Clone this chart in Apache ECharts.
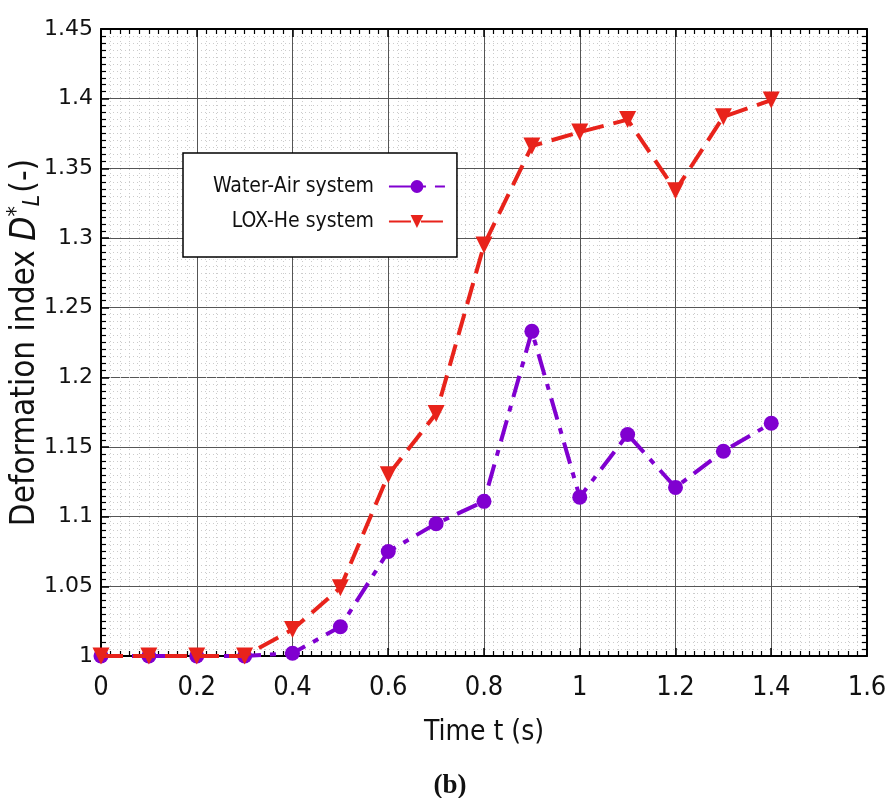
<!DOCTYPE html>
<html>
<head>
<meta charset="utf-8">
<script src="https://cdn.jsdelivr.net/npm/echarts@6/dist/echarts.min.js"></script>
<style>html,body{margin:0;padding:0;background:#fff;}#c{width:890px;height:798px;}</style>
</head>
<body>
<div id="c"></div>
<script>
const times = [0, 0.1, 0.2, 0.3, 0.4, 0.5, 0.6, 0.7, 0.8, 0.9, 1.0, 1.1, 1.2, 1.3, 1.4];
const waterAir = [1.0, 1.0, 1.0, 1.0, 1.002, 1.021, 1.075, 1.095, 1.111, 1.233, 1.114, 1.159, 1.121, 1.147, 1.167];
const loxHe = [1.0, 1.0, 1.0, 1.0, 1.019, 1.049, 1.13, 1.174, 1.295, 1.366, 1.376, 1.385, 1.334, 1.387, 1.399];
const seriesNames = ['Water-Air system', 'LOX-He system'];
const xTicks = {min: 0, max: 1.6, interval: 0.2};
const yTicks = {min: 1.0, max: 1.45, interval: 0.05};

const FONT = "'DejaVu Sans Condensed', 'Liberation Sans Narrow', 'DejaVu Sans', sans-serif";
const YFONT = "'DejaVu Sans', sans-serif";
const chart = echarts.init(document.getElementById('c'));
const pair = (ys) => times.map((t, i) => [t, ys[i]]);

function fmtX(v){ return String(Math.round(v*10)/10); }
function fmtY(v){ return String(Math.round(v*100)/100); }

const baseX = {
  type: 'value', min: xTicks.min, max: xTicks.max, interval: xTicks.interval,
  axisLine: {show: true, onZero: false, lineStyle: {color: '#000', width: 2}},
  axisTick: {show: true, inside: true, length: 8, lineStyle: {color: '#000', width: 1.5}},
  minorTick: {show: true, splitNumber: 10, length: 5, lineStyle: {color: '#000', width: 1.2}},
};
const baseY = {
  type: 'value', min: yTicks.min, max: yTicks.max, interval: yTicks.interval,
  axisLine: {show: true, onZero: false, lineStyle: {color: '#000', width: 2}},
  axisTick: {show: true, inside: true, length: 8, lineStyle: {color: '#000', width: 1.5}},
  minorTick: {show: true, splitNumber: 10, length: 5, lineStyle: {color: '#000', width: 1.2}},
};

chart.setOption({
  backgroundColor: '#fff',
  animation: false,
  grid: {left: 101, right: 23, top: 29, bottom: 142, show: false, containLabel: false, outerBoundsMode: 'none'},
  xAxis: [
    Object.assign({}, baseX, {
      position: 'bottom',
      name: 'Time t (s)', nameLocation: 'middle', nameGap: 63, nameMoveOverlap: false,
      nameTextStyle: {fontFamily: FONT, fontSize: 28, color: '#111'},
      axisLabel: {fontFamily: FONT, fontSize: 27, color: '#111', margin: 18, formatter: fmtX},
      splitLine: {show: true, lineStyle: {color: '#555', width: 1}},
      minorSplitLine: {show: true, lineStyle: {color: '#cccccc', width: 1, type: [1, 3]}}
    }),
    Object.assign({}, baseX, {
      position: 'top', axisLabel: {show: false}, splitLine: {show: false}
    })
  ],
  yAxis: [
    Object.assign({}, baseY, {
      position: 'left',
      name: '{a|Deformation index }{i|D}{sup|*}{sub|L}{a|(-)}',
      nameLocation: 'middle', nameGap: 56, nameRotate: 90, nameMoveOverlap: false,
      nameTextStyle: {
        fontFamily: FONT, fontSize: 33, color: '#111',
        rich: {
          a: {fontFamily: FONT, fontSize: 33, color: '#111'},
          i: {fontFamily: FONT, fontSize: 35, fontStyle: 'italic', color: '#111'},
          sup: {fontFamily: FONT, fontSize: 23, color: '#111', verticalAlign: 'top', padding: [0, 0, 16, 0]},
          sub: {fontFamily: FONT, fontSize: 23, fontStyle: 'italic', color: '#111', verticalAlign: 'bottom', padding: [12, 2, 0, 0]}
        }
      },
      axisLabel: {fontFamily: YFONT, fontSize: 22, color: '#111', margin: 8, formatter: fmtY},
      splitLine: {show: true, lineStyle: {color: '#555', width: 1}},
      minorSplitLine: {show: true, lineStyle: {color: '#cccccc', width: 1, type: [1, 3]}}
    }),
    Object.assign({}, baseY, {
      position: 'right', axisLabel: {show: false}, splitLine: {show: false}
    })
  ],
  legend: {
    show: true, orient: 'vertical', left: 183, top: 153,
    data: seriesNames,
    align: 'right',
    backgroundColor: '#fff', borderColor: '#000', borderWidth: 1.5,
    padding: [23, 11, 25, 30], itemGap: 14, itemWidth: 56, itemHeight: 16,
    textStyle: {fontFamily: FONT, fontSize: 21, color: '#111', padding: [0, 10, 0, 0]}
  },
  series: [
    {
      name: seriesNames[0], type: 'line', data: pair(waterAir),
      xAxisIndex: 0, yAxisIndex: 0,
      symbol: 'circle', symbolSize: 15,
      itemStyle: {color: '#8000d0'},
      lineStyle: {color: '#8000d0', width: 4, type: [22, 9, 6, 9]},
      z: 3
    },
    {
      name: seriesNames[1], type: 'line', data: pair(loxHe),
      xAxisIndex: 0, yAxisIndex: 0,
      symbol: 'triangle', symbolSize: 17, symbolRotate: 180,
      itemStyle: {color: '#e8231b'},
      lineStyle: {color: '#e8231b', width: 4, type: [22, 10]},
      z: 4
    }
  ],
  graphic: [
    {type: 'text', x: 450, y: 773, style: {text: '(b)', textAlign: 'center', font: "bold 27px 'Liberation Serif', 'DejaVu Serif', serif", fill: '#111'}}
  ]
});
</script>
</body>
</html>
